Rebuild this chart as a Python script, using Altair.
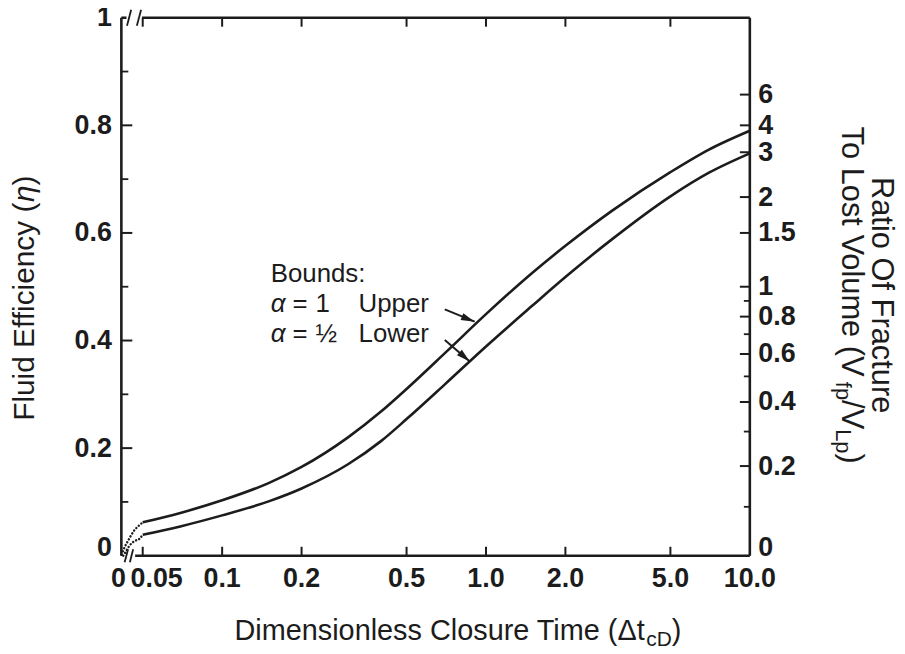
import altair as alt
import pandas as pd

# ---------------- data ----------------
x_min = 0.0415
x_max = 10.0

curve_x = [0.05, 0.07, 0.1, 0.15, 0.2, 0.3, 0.4, 0.5, 0.7, 1.0, 1.5, 2.0, 3.0, 5.0, 7.0, 10.0]
upper_eta = [0.062, 0.080, 0.103, 0.135, 0.165, 0.220, 0.268, 0.310, 0.377, 0.449, 0.526, 0.576, 0.641, 0.713, 0.755, 0.79]
lower_eta = [0.039, 0.055, 0.075, 0.101, 0.125, 0.170, 0.213, 0.254, 0.319, 0.389, 0.465, 0.518, 0.588, 0.668, 0.712, 0.748]

upper_dot_x = [0.0416, 0.0427, 0.0439, 0.0452, 0.0466, 0.0479, 0.05]
upper_dot_eta = [0.002, 0.016, 0.027, 0.038, 0.048, 0.054, 0.062]
lower_dot_x = [0.0422, 0.0434, 0.0446, 0.0466, 0.0486, 0.05]
lower_dot_eta = [0.0, 0.0098, 0.019, 0.0273, 0.0315, 0.039]

x_label_values = [x_min, 0.05, 0.1, 0.2, 0.5, 1.0, 2.0, 5.0, 10.0]
x_label_text = ['0', '0.05', '0.1', '0.2', '0.5', '1.0', '2.0', '5.0', '10.0']
x_tick_values = [0.05, 0.1, 0.2, 0.5, 1.0, 2.0, 5.0]

y_label_values = [0, 0.2, 0.4, 0.6, 0.8, 1.0]
y_label_text = ['0', '0.2', '0.4', '0.6', '0.8', '1']
y_major = [0.2, 0.4, 0.6, 0.8]
y_minor = [0.1, 0.3, 0.5, 0.7, 0.9]

ratio_labels = [0, 0.2, 0.4, 0.6, 0.8, 1, 1.5, 2, 3, 4, 6]
ratio_label_text = ['0', '0.2', '0.4', '0.6', '0.8', '1', '1.5', '2', '3', '4', '6']
ratio_minor = [0.1, 0.3, 0.5, 0.7, 0.9]

# arrows: start and tip, head angle
arrow_x0 = [0.698, 0.698]
arrow_y0 = [0.458, 0.401]
arrow_x1 = [0.906, 0.868]
arrow_y1 = [0.435, 0.361]
arrow_angle = [112, 131]

# ---------------- style ----------------
W, H = 632, 541
FONT = "Liberation Sans"
INK = "#1c1c1c"
TICK_FS = 27

AW = {' ': .278, '(': .333, ')': .333, '/': .278, 'Δ': .668, 'η': .556, 'α': .578,
      '½': .834, '=': .584, ':': .278, '.': .278,
      'B': .667, 'C': .722, 'D': .722, 'E': .667, 'F': .611, 'L': .556, 'O': .778,
      'R': .722, 'T': .611, 'U': .722, 'V': .667,
      'a': .556, 'b': .556, 'c': .5, 'd': .556, 'e': .556, 'f': .278, 'i': .222,
      'l': .222, 'm': .833, 'n': .556, 'o': .556, 'p': .556, 'r': .333, 's': .5,
      't': .278, 'u': .556, 'w': .722, 'y': .5}


def tw(s, size):
    return sum(AW.get(c, .556) for c in s) * size


def threshold_expr(values, texts):
    parts = []
    for i in range(len(values) - 1):
        mid = (values[i] + values[i + 1]) / 2
        parts.append(f"datum.value < {mid:.6g} ? '{texts[i]}' : ")
    return ''.join(parts) + f"'{texts[-1]}'"


xscale = alt.Scale(type='log', domain=[x_min, x_max], nice=False)
yscale = alt.Scale(domain=[0, 1], nice=False, zero=False)

zero_raised = {"condition": {"test": "datum.value < 0.01", "value": "alphabetic"}, "value": "middle"}
common_axis = dict(ticks=False, tickSize=0, domain=False, grid=False, title=None,
                   labelFont=FONT, labelFontSize=TICK_FS, labelFontWeight='bold',
                   labelColor=INK, labelOverlap=False, labelFlush=False,
                   labelBaseline=zero_raised)

left_axis = alt.Axis(orient='left', values=y_label_values,
                     labelExpr=threshold_expr(y_label_values, y_label_text),
                     labelPadding=10, **common_axis)
eta_ratio = [r / (1 + r) for r in ratio_labels]
right_axis = alt.Axis(orient='right', values=eta_ratio,
                      labelExpr=threshold_expr(eta_ratio, ratio_label_text),
                      labelPadding=8, **common_axis)

# ---------------- tables ----------------
df_solid = pd.concat([
    pd.DataFrame({'x': curve_x, 'eta': upper_eta, 'bound': 'upper'}),
    pd.DataFrame({'x': curve_x, 'eta': lower_eta, 'bound': 'lower'}),
])
df_dot = pd.concat([
    pd.DataFrame({'x': upper_dot_x, 'eta': upper_dot_eta, 'bound': 'upper'}),
    pd.DataFrame({'x': lower_dot_x, 'eta': lower_dot_eta, 'bound': 'lower'}),
])

seg_rows = [
    # frame
    (x_min, x_min, 0, 1, 2.6),
    (x_max, x_max, 0, 1, 2.6),
    (0.0468, x_max, 0, 0, 2.6),
    (x_min, 0.0434, 1, 1, 2.6),
    (0.0497, x_max, 1, 1, 2.6),
    # axis break slashes
    (0.0427, 0.0440, -0.012, 0.012, 1.8),
    (0.0447, 0.0460, -0.012, 0.012, 1.8),
    (0.0436, 0.0452, 0.985, 1.015, 1.8),
    (0.0475, 0.0493, 0.985, 1.015, 1.8),
]
for a, b, c, d in zip(arrow_x0, arrow_x1, arrow_y0, arrow_y1):
    seg_rows.append((a, b, c, d, 2.0))
df_seg = pd.DataFrame(seg_rows, columns=['x1', 'x2', 'y1', 'y2', 'w'])

df_heads = pd.DataFrame({'x': arrow_x1, 'eta': arrow_y1, 'ang': arrow_angle})
df_xlab = pd.DataFrame({'x': x_label_values, 'label': x_label_text})

dummy = pd.DataFrame({'a': [0]})

layers = []

layers.append(
    alt.Chart(df_solid).mark_line(color=INK, strokeWidth=2.6, interpolate='monotone').encode(
        x=alt.X('x:Q', scale=xscale, axis=None),
        y=alt.Y('eta:Q', scale=yscale, axis=left_axis),
        detail='bound:N')
)
layers.append(
    alt.Chart(df_dot).mark_line(color=INK, strokeWidth=2.4, strokeDash=[0.1, 3.3],
                                strokeCap='round', interpolate='monotone').encode(
        x=alt.X('x:Q', scale=xscale, axis=None),
        y=alt.Y('eta:Q', scale=yscale, axis=None),
        detail='bound:N')
)

# right axis ticks (carry the right axis labels)
df_rmaj = pd.DataFrame({'eta': eta_ratio[1:]})
df_rmin = pd.DataFrame({'eta': [r / (1 + r) for r in ratio_minor]})
layers.append(
    alt.Chart(df_rmaj).mark_rule(color=INK, strokeWidth=2).encode(
        y=alt.Y('eta:Q', scale=yscale, axis=right_axis),
        x=alt.value(W), x2=alt.value(W - 10))
)
layers.append(
    alt.Chart(df_rmin).mark_rule(color=INK, strokeWidth=1.8).encode(
        y=alt.Y('eta:Q', scale=yscale, axis=None),
        x=alt.value(W), x2=alt.value(W - 6))
)
# left ticks
layers.append(
    alt.Chart(pd.DataFrame({'eta': y_major})).mark_rule(color=INK, strokeWidth=2).encode(
        y=alt.Y('eta:Q', scale=yscale, axis=None),
        x=alt.value(0), x2=alt.value(11))
)
layers.append(
    alt.Chart(pd.DataFrame({'eta': y_minor})).mark_rule(color=INK, strokeWidth=1.8).encode(
        y=alt.Y('eta:Q', scale=yscale, axis=None),
        x=alt.value(0), x2=alt.value(7))
)
# bottom and top ticks
df_xt = pd.DataFrame({'x': x_tick_values})
layers.append(
    alt.Chart(df_xt).mark_rule(color=INK, strokeWidth=2).encode(
        x=alt.X('x:Q', scale=xscale, axis=None),
        y=alt.value(H), y2=alt.value(H - 9))
)
layers.append(
    alt.Chart(df_xt).mark_rule(color=INK, strokeWidth=2).encode(
        x=alt.X('x:Q', scale=xscale, axis=None),
        y=alt.value(0), y2=alt.value(9))
)
# x tick labels, positioned through the x scale ("0" and "0.05" nudged as in the reference)
label_nudge = {'0': -3, '0.05': 14}
for lab_set, nudge in [([t for t in x_label_text if t not in label_nudge], 0)] + \
        [([t], n) for t, n in label_nudge.items()]:
    layers.append(
        alt.Chart(df_xlab[df_xlab['label'].isin(lab_set)]).mark_text(
            font=FONT, fontSize=TICK_FS, fontWeight='bold', color=INK,
            align='center', baseline='alphabetic', dx=nudge).encode(
            x=alt.X('x:Q', scale=xscale, axis=None),
            y=alt.value(H + 31),
            text='label:N')
    )
# frame, breaks, arrow shafts
layers.append(
    alt.Chart(df_seg).mark_rule(color=INK, strokeCap='butt').encode(
        x=alt.X('x1:Q', scale=xscale, axis=None), x2='x2:Q',
        y=alt.Y('y1:Q', scale=yscale, axis=None), y2='y2:Q',
        strokeWidth=alt.StrokeWidth('w:Q', scale=None))
)
# arrow heads
layers.append(
    alt.Chart(df_heads).mark_point(shape="M0,0L-0.27,1L0.27,1Z", filled=True, color=INK,
                                   opacity=1, size=760, strokeWidth=0).encode(
        x=alt.X('x:Q', scale=xscale, axis=None),
        y=alt.Y('eta:Q', scale=yscale, axis=None),
        angle=alt.Angle('ang:Q', scale=None))
)


# ---------------- text ----------------
def txt(text, size, xenc, yenc, dx=0.0, dy=0.0, angle=0, style='normal', data=None):
    return alt.Chart(dummy if data is None else data).mark_text(
        text=text, font=FONT, fontSize=size, angle=angle, align='left',
        baseline='alphabetic', dx=dx, dy=dy, color=INK, fontStyle=style
    ).encode(x=xenc, y=yenc)


def centered(pieces, xpix, ypix, angle):
    # pieces: (text, size, drop, style)
    total = sum(tw(t, s) for t, s, _, _ in pieces)
    pos = -total / 2
    out = []
    for t, s, drop, st in pieces:
        out.append(txt(t, s, alt.value(xpix), alt.value(ypix), dx=pos, dy=drop, angle=angle, style=st))
        pos += tw(t, s)
    return out


layers += centered([("Dimensionless Closure Time (Δt", 29, 0, 'normal'),
                    ("cD", 21, 6, 'normal'),
                    (")", 29, 0, 'normal')], 338.5, 626, 0)
layers += centered([("Fluid Efficiency (", 30, 0, 'normal'),
                    ("η", 30, 0, 'italic'),
                    (")", 30, 0, 'normal')], -88, 282, 270)
layers += centered([("Ratio Of Fracture", 31, 0, 'normal')], 755, 279, 90)
layers += centered([("To Lost Volume (V", 31, 0, 'normal'),
                    ("fp", 22, 6, 'normal'),
                    ("/V", 31, 0, 'normal'),
                    ("Lp", 22, 6, 'normal'),
                    (")", 31, 0, 'normal')], 725, 279, 90)

# annotation, anchored in data coordinates
ann_x_left = 0.1527
ann_x_right = 0.3289
ann_eta = [0.509, 0.4534, 0.398]


def at(xv, ev):
    d = pd.DataFrame({'x': [xv], 'eta': [ev]})
    return d, alt.X('x:Q', scale=xscale, axis=None), alt.Y('eta:Q', scale=yscale, axis=None)


AFS = 26
d, xe, ye = at(ann_x_left, ann_eta[0])
layers.append(txt("Bounds:", AFS, xe, ye, data=d))
for k, (val, word) in enumerate([("1", "Upper"), ("½", "Lower")]):
    d, xe, ye = at(ann_x_left, ann_eta[k + 1])
    layers.append(txt("α", AFS, xe, ye, style='italic', data=d))
    layers.append(txt("=", AFS, xe, ye, dx=22, data=d))
    layers.append(txt(val, AFS, xe, ye, dx=45, data=d))
    d2, xe2, ye2 = at(ann_x_right, ann_eta[k + 1])
    layers.append(txt(word, AFS, xe2, ye2, data=d2))

chart = alt.layer(*layers).resolve_axis(y='independent').properties(
    width=W, height=H,
    padding={"left": 114, "top": 8, "right": 148, "bottom": 92},
    autosize=alt.AutoSizeParams(type='none'),
    background='white',
).configure_view(strokeWidth=0)

chart.save("out.html", embed_options={"renderer": "svg", "actions": False})
